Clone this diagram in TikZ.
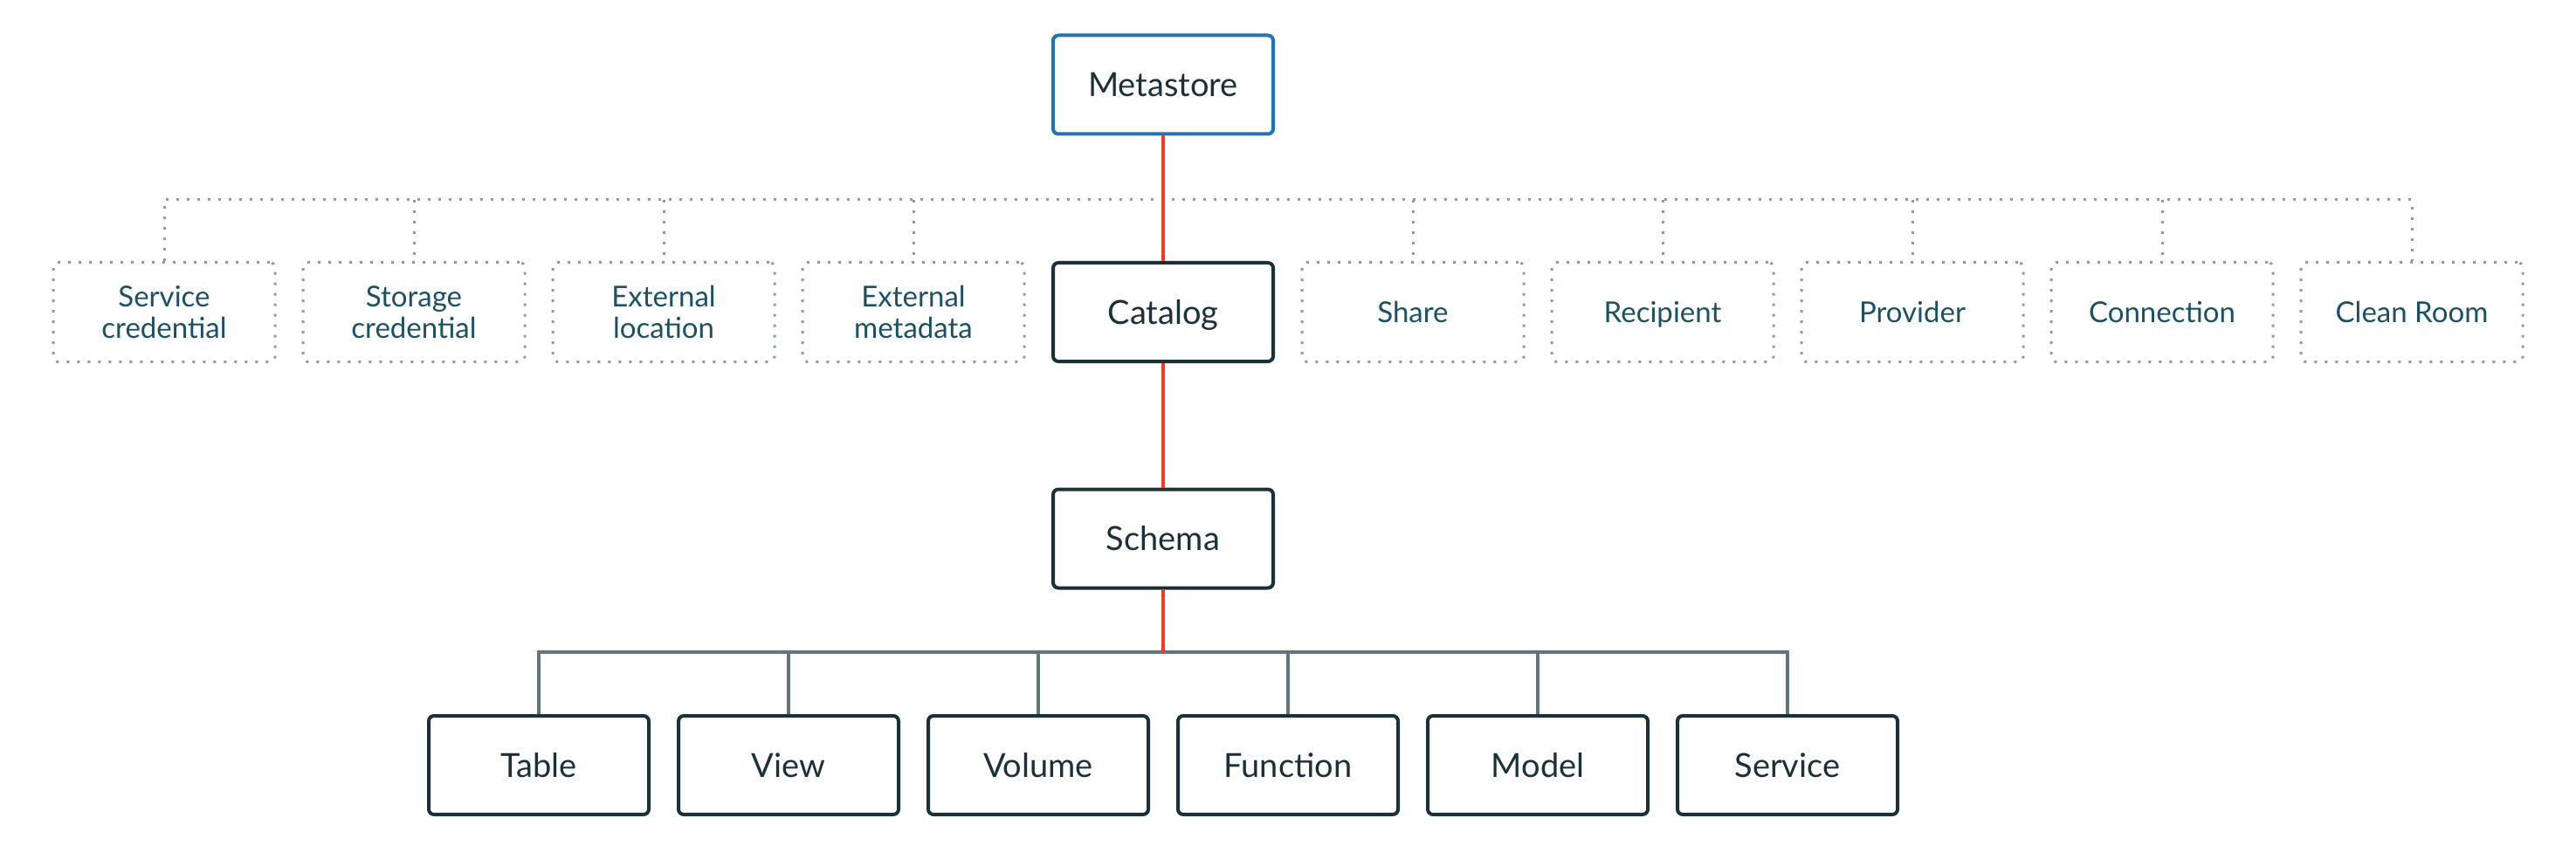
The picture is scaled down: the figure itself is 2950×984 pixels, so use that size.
\documentclass[tikz,border=0pt]{standalone}
\usepackage{fontspec}
\setmainfont{Lato}
\definecolor{dark}{HTML}{1B3139}
\definecolor{mblue}{HTML}{2272B4}
\definecolor{mred}{HTML}{FF3621}
\definecolor{dotgray}{HTML}{8E9BA5}
\definecolor{tealtext}{HTML}{1B5162}
\definecolor{busgray}{HTML}{5F7580}
\begin{document}
\begin{tikzpicture}[x=0.5pt,y=-0.5pt,
  solidbox/.style={draw=dark, line width=2pt, rounded corners=3pt, fill=white,
    minimum width=126pt, minimum height=56.5pt, inner sep=0pt,
    font=\fontsize{19}{22}\selectfont, text=dark, text height=13.7pt, text depth=0pt},
  dotbox/.style={draw=dotgray, line width=1.5pt, dash pattern=on 1.5pt off 4.5pt,
    rounded corners=3pt, minimum width=127pt, minimum height=57pt, inner sep=0pt,
    align=center, font=\fontsize{16.5}{18}\selectfont, text=tealtext},
  oneline/.style={text height=11.9pt, text depth=0pt},
  redline/.style={draw=mred, line width=1.6pt},
  busline/.style={draw=busgray, line width=1.6pt},
  dotline/.style={draw=dotgray, line width=1.5pt, dash pattern=on 1.5pt off 4.5pt},
]
\useasboundingbox (0,0) rectangle (2950,984);

% top
\node[solidbox, draw=mblue] (meta) at (1332,97) {Metastore};
\node[solidbox] (cat) at (1332,357.5) {Catalog};
\node[solidbox] (schema) at (1332,617) {Schema};

% dotted row
\node[dotbox] (sc) at (188,357.5) {Service\\credential};
\node[dotbox] (stc) at (474,357.5) {Storage\\credential};
\node[dotbox] (el) at (760,357.5) {External\\location};
\node[dotbox] (em) at (1046,357.5) {External\\metadata};
\node[dotbox, oneline] (share) at (1618,357.5) {Share};
\node[dotbox, oneline] (rec) at (1904,357.5) {Recipient};
\node[dotbox, oneline] (prov) at (2190,357.5) {Provider};
\node[dotbox, oneline] (conn) at (2476,357.5) {Connection};
\node[dotbox, oneline] (cr) at (2762,357.5) {Clean Room};

% bottom row
\node[solidbox] (tbl) at (617,876.5) {Table};
\node[solidbox] (view) at (903,876.5) {View};
\node[solidbox] (vol) at (1189,876.5) {Volume};
\node[solidbox] (func) at (1475,876.5) {Function};
\node[solidbox] (model) at (1761,876.5) {Model};
\node[solidbox] (svc) at (2047,876.5) {Service};

\coordinate (dj) at (1332,229);
\coordinate (bj) at (1332,747);

% dotted connectors
\draw[dotline] (sc.north) -- (sc.north |- dj) -- (cr.north |- dj) -- (cr.north);
\foreach \n in {stc,el,em,share,rec,prov,conn}
  \draw[dotline] (\n.north |- dj) -- (\n.north);

% bus
\draw[busline] (tbl.north) -- (tbl.north |- bj) -- (svc.north |- bj) -- (svc.north);
\foreach \n in {view,vol,func,model}
  \draw[busline] (\n.north |- bj) -- (\n.north);

% red line
\draw[redline] (meta.south) -- (cat.north);
\draw[redline] (cat.south) -- (schema.north);
\draw[redline] (schema.south) -- (bj);
\end{tikzpicture}
\end{document}
